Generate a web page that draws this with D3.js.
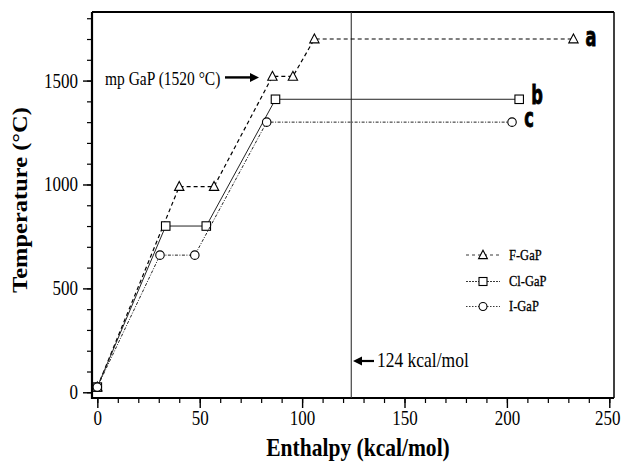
<!DOCTYPE html>
<html>
<head>
<meta charset="utf-8">
<script src="https://cdn.jsdelivr.net/npm/d3@7"></script>
<style>
  html, body { margin: 0; padding: 0; background: #fff; }
  svg { display: block; }
  .tick text { font-family: "Liberation Serif", "DejaVu Serif", serif; }
</style>
</head>
<body>
<svg id="chart" width="621" height="463"></svg>
<script>
// Heating curves: enthalpy (kcal/mol) vs temperature (°C)
const seriesNames = ["F-GaP", "Cl-GaP", "I-GaP"];
const seriesTags = ["a", "b", "c"];
const fEnthalpy = [0, 40, 57, 85.5, 95.5, 106, 232.5];
const fTemp = [25, 990, 990, 1520, 1520, 1700, 1700];
const clEnthalpy = [0, 33.4, 53.2, 87, 206];
const clTemp = [25, 800, 800, 1410, 1410];
const iEnthalpy = [0, 30.6, 47.6, 82.7, 202.5];
const iTemp = [25, 660, 660, 1300, 1300];
const xMajorTicks = [0, 50, 100, 150, 200, 250];
const yMajorTicks = [0, 500, 1000, 1500];
const meltingPoint = 1520;
const enthalpyLimit = 124;

const svg = d3.select("#chart");
const pLeft = 92, pRight = 614, pTop = 12, pBottom = 398;

const x = d3.scaleLinear().domain([-2.6, 252.3]).range([pLeft, pRight]);
const y = d3.scaleLinear().domain([-27.5, 1830]).range([pBottom, pTop]);

const serif = "'Liberation Serif', 'DejaVu Serif', serif";
const tall = 1.2; // vertical stretch applied to serif labels

// minor ticks
svg.append("g")
  .attr("transform", `translate(0,${pBottom})`)
  .call(d3.axisBottom(x).tickValues(d3.range(0, 251, 10)).tickSize(5).tickFormat(""))
  .call(g => g.select(".domain").remove())
  .call(g => g.selectAll("line").attr("stroke-width", 1.2));
svg.append("g")
  .attr("transform", `translate(${pLeft},0)`)
  .call(d3.axisLeft(y).tickValues(d3.range(0, 1801, 100)).tickSize(5).tickFormat(""))
  .call(g => g.select(".domain").remove())
  .call(g => g.selectAll("line").attr("stroke-width", 1.2));

// major ticks with labels
svg.append("g")
  .attr("transform", `translate(0,${pBottom})`)
  .call(d3.axisBottom(x).tickValues(xMajorTicks).tickSize(10).tickPadding(3).tickFormat(d3.format("d")))
  .call(g => g.select(".domain").remove())
  .call(g => g.selectAll("line").attr("stroke-width", 1.4))
  .call(g => g.selectAll("text")
    .attr("font-size", 17).attr("fill", "#000")
    .attr("y", 0).attr("dy", null)
    .attr("transform", d => `translate(${d === 250 ? -2 : 0},27) scale(1,${tall})`));
svg.append("g")
  .attr("transform", `translate(${pLeft},0)`)
  .call(d3.axisLeft(y).tickValues(yMajorTicks).tickSize(9).tickPadding(5).tickFormat(d3.format("d")))
  .call(g => g.select(".domain").remove())
  .call(g => g.selectAll("line").attr("stroke-width", 1.4))
  .call(g => g.selectAll("text")
    .attr("font-size", 17).attr("fill", "#000")
    .attr("dy", null).attr("x", 0)
    .attr("transform", `translate(-14,6.5) scale(1,${tall})`));

// plot frame
svg.append("line").attr("x1", pLeft).attr("x2", pRight).attr("y1", pTop).attr("y2", pTop)
  .attr("stroke", "#000").attr("stroke-width", 1.8);
svg.append("line").attr("x1", pRight).attr("x2", pRight).attr("y1", pTop).attr("y2", pBottom)
  .attr("stroke", "#000").attr("stroke-width", 1.5);
svg.append("line").attr("x1", pLeft).attr("x2", pLeft).attr("y1", pTop).attr("y2", pBottom + 1)
  .attr("stroke", "#000").attr("stroke-width", 2.2);
svg.append("line").attr("x1", pLeft - 1).attr("x2", pRight).attr("y1", pBottom).attr("y2", pBottom)
  .attr("stroke", "#000").attr("stroke-width", 2.2);

// vertical reference line at the enthalpy limit
svg.append("line")
  .attr("x1", x(enthalpyLimit)).attr("x2", x(enthalpyLimit))
  .attr("y1", pTop).attr("y2", pBottom)
  .attr("stroke", "#333").attr("stroke-width", 1.1);

const series = [
  { xs: fEnthalpy, ys: fTemp, dash: "4,3", width: 1.2, shape: "triangle", color: "#000" },
  { xs: clEnthalpy, ys: clTemp, dash: null, width: 1.0, shape: "square", color: "#222" },
  { xs: iEnthalpy, ys: iTemp, dash: "3,1.5,1,1.5", width: 1.0, shape: "circle", color: "#222" }
];

const line = d3.line().x(d => x(d[0])).y(d => y(d[1]));

function drawMarker(g, shape, cx, cy, s) {
  if (shape === "triangle") {
    g.append("path")
      .attr("d", `M${cx},${cy - s * 0.6}L${cx + s * 0.55},${cy + s * 0.45}L${cx - s * 0.55},${cy + s * 0.45}Z`)
      .attr("fill", "#fff").attr("stroke", "#000").attr("stroke-width", 1.1);
  } else if (shape === "square") {
    g.append("rect").attr("x", cx - s / 2).attr("y", cy - s / 2).attr("width", s).attr("height", s)
      .attr("fill", "#fff").attr("stroke", "#000").attr("stroke-width", 1.1);
  } else {
    g.append("circle").attr("cx", cx).attr("cy", cy).attr("r", s / 2)
      .attr("fill", "#fff").attr("stroke", "#000").attr("stroke-width", 1.1);
  }
}

series.forEach((s, i) => {
  const pts = s.xs.map((v, k) => [v, s.ys[k]]);
  svg.append("path").datum(pts)
    .attr("d", line)
    .attr("fill", "none")
    .attr("stroke", s.color)
    .attr("stroke-width", s.width)
    .attr("stroke-dasharray", s.dash);
  const mg = svg.append("g");
  pts.forEach(p => drawMarker(mg, s.shape, x(p[0]), y(p[1]), 8.5));
});

// series tags at curve ends
const tagPos = [[591, 46], [537, 104], [529, 127]];
seriesTags.forEach((t, i) => {
  svg.append("text")
    .attr("transform", `translate(${tagPos[i][0]},${tagPos[i][1]}) scale(0.72,1.05)`)
    .attr("text-anchor", "middle")
    .attr("font-family", "'DejaVu Sans Condensed', 'DejaVu Sans', sans-serif")
    .attr("font-weight", "bold")
    .attr("font-size", 25)
    .attr("stroke", "#000").attr("stroke-width", 0.8)
    .text(t);
});

// melting point annotation
svg.append("text")
  .attr("transform", `translate(105,85) scale(1,${tall})`)
  .attr("font-family", serif).attr("font-size", 15.5)
  .text(`mp GaP (${meltingPoint} °C)`);
svg.append("line").attr("x1", 225).attr("x2", 252).attr("y1", y(meltingPoint) + 1).attr("y2", y(meltingPoint) + 1)
  .attr("stroke", "#000").attr("stroke-width", 2.4);
svg.append("path")
  .attr("d", `M259,${y(meltingPoint) + 1}l-9,-4.5v9Z`).attr("fill", "#000");

// enthalpy limit annotation
const ay = 361;
svg.append("line").attr("x1", 360).attr("x2", 374).attr("y1", ay).attr("y2", ay)
  .attr("stroke", "#000").attr("stroke-width", 2.2);
svg.append("path").attr("d", `M353,${ay}l9,-4.5v9Z`).attr("fill", "#000");
svg.append("text")
  .attr("transform", `translate(377,${ay + 6}) scale(1,${tall})`)
  .attr("font-family", serif).attr("font-size", 17.5)
  .text(`${enthalpyLimit} kcal/mol`);

// legend
const legendY = [255, 281.5, 306.5];
const legendDash = ["3,3", "2,1", "1.5,1.5"];
seriesNames.forEach((name, i) => {
  const g = svg.append("g");
  g.append("line").attr("x1", 466).attr("x2", 500).attr("y1", legendY[i]).attr("y2", legendY[i])
    .attr("stroke", "#222").attr("stroke-width", 0.9).attr("stroke-dasharray", legendDash[i]);
  drawMarker(g, series[i].shape, 483, legendY[i], 8);
  g.append("text")
    .attr("transform", `translate(509,${legendY[i] + 4.5}) scale(1,${tall})`)
    .attr("font-family", serif).attr("font-size", 12.5)
    .attr("stroke", "#000").attr("stroke-width", 0.25)
    .text(name);
});

// axis titles
svg.append("text")
  .attr("transform", `translate(358,456) scale(1.05,${tall})`)
  .attr("text-anchor", "middle")
  .attr("font-family", serif).attr("font-weight", "bold").attr("font-size", 20.5)
  .text("Enthalpy (kcal/mol)");
svg.append("text")
  .attr("transform", `translate(27,200) rotate(-90) scale(${tall * 1.02},1)`)
  .attr("text-anchor", "middle")
  .attr("font-family", serif).attr("font-weight", "bold").attr("font-size", 20)
  .text("Temperature (°C)");
</script>
</body>
</html>
